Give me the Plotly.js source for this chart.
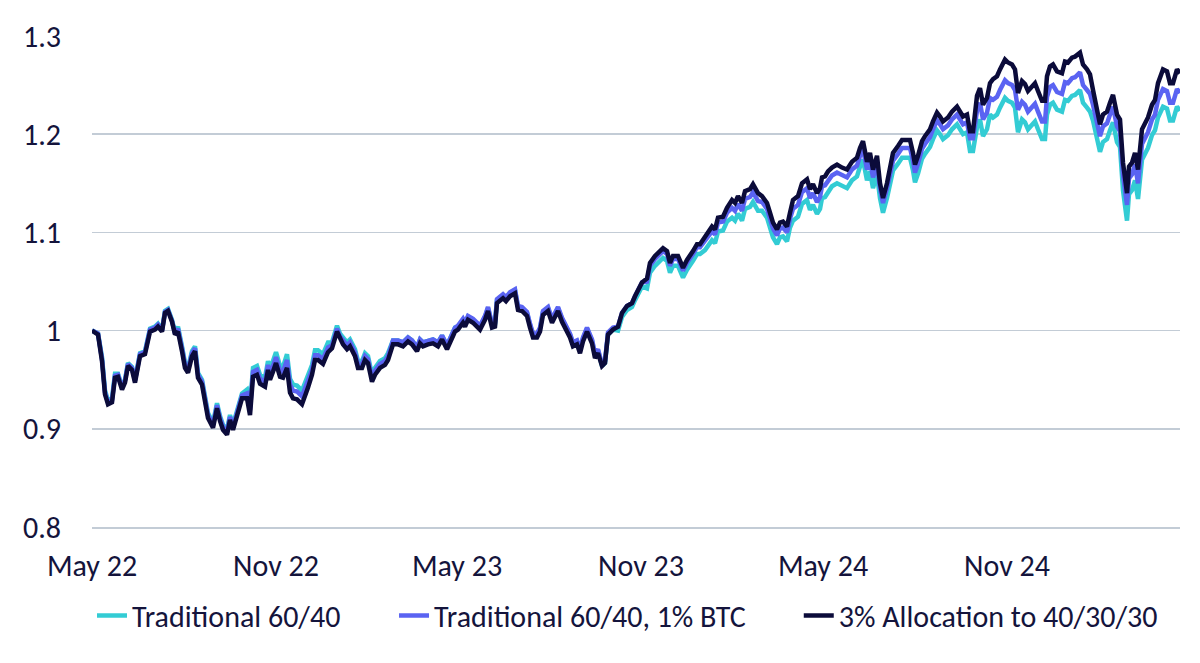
<!DOCTYPE html>
<html>
<head>
<meta charset="utf-8">
<script src="https://cdn.plot.ly/plotly-3.0.1.min.js"></script>
<style>
  html, body { margin: 0; padding: 0; background: #ffffff; }
  #chart { width: 1200px; height: 663px; }
</style>
</head>
<body>
<div id="chart"></div>
<script>
// Days elapsed since 1 May 2022 for each observation
const dayOffsets = [0,6,10,13,16,20,23,26,30,33,36,40,43,48,53,58,63,66,70,73,76,80,83,86,90,93,96,100,103,106,110,113,116,121,125,128,131,135,138,141,146,150,155,158,161,165,168,173,176,178,181,184,188,191,195,198,201,205,210,213,216,220,223,226,231,236,240,245,248,251,255,258,263,266,270,273,276,280,283,288,293,296,301,306,311,316,320,325,328,331,336,341,346,350,355,360,363,366,371,373,376,381,388,393,396,400,403,405,408,411,414,418,423,426,430,435,438,441,445,448,451,456,460,466,470,475,478,481,485,488,491,495,500,503,506,510,513,516,521,526,530,535,540,543,546,550,555,558,563,566,571,575,578,581,586,591,595,601,605,608,613,620,623,626,631,635,640,643,646,650,653,658,661,666,670,675,678,681,685,688,691,695,698,701,706,710,715,718,721,725,728,730,733,736,740,745,750,755,760,765,768,771,775,778,781,785,788,791,795,798,801,806,810,815,818,821,823,826,830,833,838,841,845,848,851,856,860,865,868,871,875,878,881,885,888,891,895,898,901,905,908,911,913,916,920,923,926,930,933,936,940,943,946,950,953,955,958,961,965,970,973,976,980,983,988,991,995,998,1001,1005,1008,1011,1015,1018,1021,1025,1028,1031,1035,1037,1040,1043,1046,1050,1053,1056,1060,1063,1066,1071,1075,1078,1081,1085,1088];

const traditional6040 = [1.000,0.997,0.973,0.939,0.929,0.931,0.956,0.956,0.943,0.950,0.967,0.963,0.950,0.977,0.979,1.002,1.004,1.007,1.001,1.020,1.022,1.011,0.998,1.004,0.984,0.967,0.962,0.979,0.984,0.957,0.950,0.930,0.916,0.906,0.926,0.913,0.904,0.899,0.914,0.904,0.923,0.936,0.940,0.923,0.962,0.964,0.955,0.952,0.969,0.961,0.969,0.978,0.964,0.963,0.976,0.951,0.945,0.944,0.939,0.947,0.956,0.965,0.980,0.980,0.976,0.988,0.988,1.005,0.997,0.993,0.988,0.991,0.981,0.969,0.969,0.977,0.974,0.955,0.962,0.969,0.972,0.977,0.990,0.990,0.988,0.993,0.990,0.983,0.991,0.988,0.990,0.991,0.988,0.995,0.985,0.995,1.003,1.004,1.011,1.007,1.014,1.011,1.004,1.014,1.023,1.006,1.007,1.031,1.033,1.036,1.033,1.038,1.041,1.024,1.023,1.018,1.006,0.996,0.996,1.002,1.019,1.023,1.011,1.023,1.012,1.002,0.996,0.987,0.989,0.980,0.992,1.002,0.990,0.975,0.980,0.964,0.967,0.996,1.001,1.000,1.014,1.021,1.024,1.031,1.038,1.045,1.043,1.059,1.066,1.069,1.074,1.071,1.059,1.066,1.066,1.054,1.062,1.071,1.078,1.078,1.082,1.092,1.089,1.101,1.102,1.111,1.115,1.112,1.119,1.112,1.124,1.126,1.131,1.122,1.122,1.115,1.105,1.095,1.088,1.095,1.096,1.091,1.105,1.112,1.116,1.129,1.133,1.123,1.128,1.119,1.124,1.135,1.136,1.141,1.147,1.150,1.147,1.145,1.153,1.157,1.167,1.174,1.153,1.162,1.145,1.159,1.135,1.120,1.135,1.151,1.163,1.170,1.176,1.176,1.176,1.163,1.151,1.160,1.175,1.180,1.187,1.195,1.204,1.200,1.195,1.199,1.205,1.210,1.205,1.200,1.202,1.183,1.183,1.207,1.215,1.198,1.205,1.220,1.217,1.220,1.227,1.233,1.237,1.234,1.232,1.227,1.202,1.215,1.212,1.205,1.210,1.213,1.205,1.195,1.195,1.220,1.230,1.232,1.225,1.223,1.235,1.234,1.239,1.240,1.245,1.232,1.227,1.223,1.214,1.194,1.182,1.192,1.195,1.204,1.212,1.192,1.187,1.143,1.112,1.139,1.143,1.153,1.134,1.174,1.179,1.186,1.199,1.204,1.217,1.228,1.226,1.214,1.214,1.228,1.224];

const traditional6040Btc1 = [1.000,0.997,0.971,0.937,0.927,0.929,0.954,0.955,0.942,0.949,0.966,0.962,0.949,0.976,0.978,1.001,1.003,1.006,1.000,1.019,1.021,1.010,0.997,1.002,0.982,0.965,0.960,0.977,0.982,0.955,0.948,0.928,0.914,0.904,0.924,0.911,0.902,0.897,0.912,0.902,0.921,0.934,0.936,0.919,0.958,0.960,0.951,0.948,0.965,0.956,0.964,0.973,0.959,0.958,0.970,0.945,0.939,0.938,0.933,0.941,0.950,0.960,0.975,0.975,0.971,0.983,0.985,1.002,0.994,0.990,0.985,0.988,0.978,0.966,0.966,0.974,0.971,0.952,0.959,0.966,0.969,0.974,0.990,0.990,0.988,0.993,0.990,0.983,0.991,0.988,0.990,0.991,0.988,0.995,0.985,0.995,1.003,1.005,1.012,1.008,1.015,1.012,1.005,1.015,1.024,1.007,1.008,1.032,1.034,1.037,1.034,1.039,1.042,1.025,1.024,1.019,1.007,0.997,0.997,1.003,1.020,1.024,1.012,1.024,1.013,1.003,0.997,0.988,0.990,0.981,0.993,1.003,0.991,0.976,0.981,0.966,0.969,0.998,1.003,1.004,1.018,1.025,1.028,1.035,1.042,1.049,1.050,1.066,1.073,1.076,1.081,1.078,1.066,1.073,1.073,1.061,1.069,1.078,1.085,1.085,1.091,1.101,1.098,1.110,1.111,1.120,1.125,1.122,1.129,1.122,1.134,1.136,1.141,1.132,1.131,1.124,1.114,1.104,1.097,1.104,1.105,1.100,1.114,1.124,1.128,1.141,1.145,1.135,1.140,1.131,1.136,1.147,1.148,1.153,1.158,1.161,1.158,1.156,1.164,1.168,1.178,1.185,1.164,1.173,1.156,1.170,1.145,1.130,1.145,1.161,1.173,1.180,1.186,1.186,1.186,1.173,1.161,1.170,1.185,1.190,1.197,1.205,1.214,1.210,1.205,1.209,1.215,1.220,1.215,1.210,1.212,1.196,1.196,1.224,1.232,1.215,1.222,1.237,1.235,1.238,1.245,1.251,1.255,1.252,1.250,1.245,1.225,1.233,1.230,1.223,1.228,1.231,1.223,1.213,1.213,1.238,1.248,1.250,1.243,1.241,1.253,1.252,1.257,1.258,1.263,1.250,1.245,1.241,1.230,1.210,1.198,1.208,1.211,1.220,1.228,1.208,1.203,1.159,1.128,1.155,1.159,1.169,1.150,1.190,1.195,1.202,1.215,1.220,1.235,1.246,1.244,1.232,1.232,1.246,1.242];

const allocation403030 = [1.000,0.996,0.969,0.935,0.925,0.927,0.952,0.953,0.940,0.947,0.964,0.960,0.947,0.974,0.976,0.999,1.001,1.004,0.999,1.018,1.020,1.009,0.996,0.999,0.979,0.962,0.957,0.974,0.979,0.952,0.945,0.925,0.911,0.901,0.921,0.908,0.899,0.894,0.909,0.899,0.918,0.931,0.931,0.914,0.953,0.955,0.946,0.943,0.960,0.950,0.958,0.967,0.953,0.952,0.962,0.937,0.931,0.930,0.925,0.933,0.942,0.955,0.970,0.970,0.966,0.978,0.982,0.999,0.991,0.986,0.981,0.984,0.974,0.962,0.962,0.970,0.967,0.948,0.955,0.962,0.965,0.970,0.986,0.986,0.984,0.989,0.986,0.979,0.987,0.984,0.986,0.987,0.984,0.991,0.981,0.991,0.999,1.001,1.008,1.004,1.011,1.008,1.001,1.011,1.020,1.003,1.004,1.028,1.030,1.033,1.030,1.035,1.038,1.021,1.020,1.015,1.003,0.993,0.993,0.999,1.016,1.020,1.008,1.020,1.009,0.999,0.993,0.984,0.986,0.977,0.989,0.999,0.987,0.972,0.977,0.964,0.967,0.996,1.001,1.004,1.018,1.025,1.028,1.035,1.042,1.049,1.053,1.069,1.076,1.079,1.084,1.081,1.069,1.076,1.076,1.064,1.072,1.081,1.088,1.088,1.096,1.106,1.103,1.115,1.116,1.125,1.133,1.130,1.137,1.130,1.142,1.144,1.149,1.140,1.137,1.130,1.120,1.110,1.103,1.110,1.111,1.106,1.120,1.133,1.137,1.150,1.154,1.144,1.149,1.140,1.145,1.156,1.157,1.162,1.166,1.169,1.166,1.164,1.172,1.176,1.186,1.193,1.172,1.181,1.164,1.178,1.150,1.135,1.150,1.166,1.181,1.188,1.194,1.194,1.194,1.181,1.169,1.178,1.193,1.198,1.205,1.213,1.222,1.218,1.213,1.217,1.223,1.228,1.223,1.218,1.220,1.203,1.203,1.239,1.247,1.230,1.237,1.252,1.256,1.259,1.266,1.272,1.276,1.273,1.271,1.266,1.242,1.254,1.251,1.244,1.249,1.252,1.244,1.234,1.234,1.259,1.269,1.271,1.264,1.262,1.274,1.273,1.278,1.279,1.283,1.271,1.266,1.261,1.245,1.222,1.210,1.220,1.223,1.232,1.240,1.220,1.215,1.171,1.140,1.167,1.171,1.181,1.164,1.205,1.210,1.217,1.230,1.235,1.252,1.266,1.264,1.252,1.252,1.266,1.262];

const seriesNames = ["Traditional 60/40", "Traditional 60/40, 1% BTC", "3% Allocation to 40/30/30"];
const seriesColors = ["#33CCD4", "#5A63F2", "#0B0B3A"];
const tickDates = ["2022-05-01", "2022-11-01", "2023-05-01", "2023-11-01", "2024-05-01", "2024-11-01"];
const tickLabels = ["May 22", "Nov 22", "May 23", "Nov 23", "May 24", "Nov 24"];
const yTicks = [0.8, 0.9, 1.0, 1.1, 1.2, 1.3];
const yTickLabels = ["0.8", "0.9", "1", "1.1", "1.2", "1.3"];

const startMs = Date.UTC(2022, 4, 1);
const dates = dayOffsets.map(d => new Date(startMs + d * 86400000).toISOString().slice(0, 10));

const values = [traditional6040, traditional6040Btc1, allocation403030];
const legendIds = ["legend", "legend2", "legend3"];
const traces = values.map((v, i) => ({
  type: "scatter",
  mode: "lines",
  x: dates,
  y: v,
  name: seriesNames[i],
  legend: legendIds[i],
  line: { color: seriesColors[i], width: 4.5 },
  hoverinfo: "skip"
}));

const textColor = "#14143C";
const fontFam = "Carlito, Lato, 'Open Sans', sans-serif";
const gridColor = "#C3CCD6";

function legendAt(xFrac) {
  return {
    orientation: "h",
    x: xFrac,
    xanchor: "left",
    y: -0.18,
    yanchor: "middle",
    bgcolor: "rgba(0,0,0,0)",
    font: { family: fontFam, size: 30, color: textColor },
    itemwidth: 30
  };
}

const layout = {
  width: 1200,
  height: 663,
  margin: { l: 92, r: 20, t: 36, b: 136 },
  paper_bgcolor: "#ffffff",
  plot_bgcolor: "#ffffff",
  font: { family: fontFam, color: textColor, size: 30 },
  showlegend: true,
  legend: legendAt(0.0),
  legend2: legendAt(0.2776),
  legend3: legendAt(0.6496),
  xaxis: {
    type: "date",
    range: [dates[0], dates[dates.length - 1]],
    tickmode: "array",
    tickvals: tickDates,
    ticktext: tickLabels,
    showgrid: false,
    showline: true,
    linecolor: gridColor,
    linewidth: 1.5,
    zeroline: false,
    ticks: "",
    ticklabelstandoff: 11,
    tickfont: { family: fontFam, size: 30, color: textColor },
    fixedrange: true
  },
  yaxis: {
    range: [0.8, 1.3],
    tickmode: "array",
    tickvals: yTicks,
    ticktext: yTickLabels,
    showgrid: true,
    gridcolor: gridColor,
    gridwidth: 1.5,
    showline: false,
    zeroline: false,
    ticks: "",
    ticklabelstandoff: 30,
    tickfont: { family: fontFam, size: 30, color: textColor },
    fixedrange: true
  },
  hovermode: false
};

Plotly.newPlot("chart", traces, layout, { displayModeBar: false, staticPlot: true });
</script>
</body>
</html>
